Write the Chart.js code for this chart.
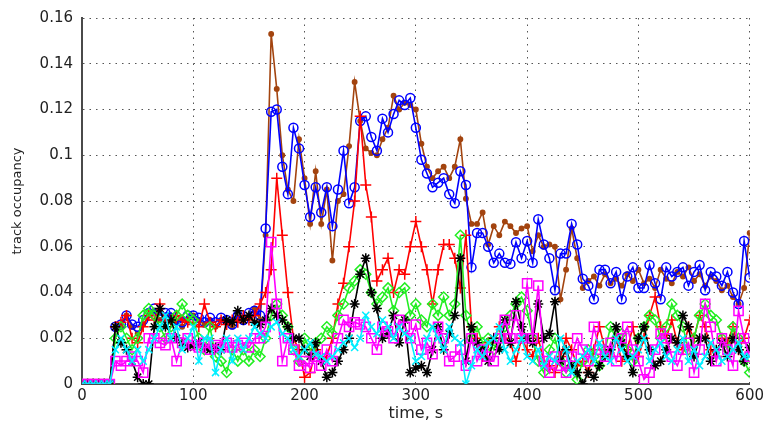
<!DOCTYPE html>
<html>
<head>
<meta charset="utf-8">
<script src="https://cdn.jsdelivr.net/npm/chart.js@4/dist/chart.umd.min.js"></script>
<style>
html,body{margin:0;padding:0;background:#fff;}
#wrap{width:767px;height:430px;}
</style>
</head>
<body>
<div id="wrap"><canvas id="c" width="767" height="430"></canvas></div>
<script>
// time, s
const time = [
  0,5,10,15,20,25,30,35,40,45,
  50,55,60,65,70,75,80,85,90,95,
  100,105,110,115,120,125,130,135,140,145,
  150,155,160,165,170,175,180,185,190,195,
  200,205,210,215,220,225,230,235,240,245,
  250,255,260,265,270,275,280,285,290,295,
  300,305,310,315,320,325,330,335,340,345,
  350,355,360,365,370,375,380,385,390,395,
  400,405,410,415,420,425,430,435,440,445,
  450,455,460,465,470,475,480,485,490,495,
  500,505,510,515,520,525,530,535,540,545,
  550,555,560,565,570,575,580,585,590,595,
  600
];

const brownSeries = [
  0,0,0,0,0,0,0.025,0.025,0.03,0.025,
  0.022,0.026,0.03,0.032,0.028,0.03,0.03,0.027,0.025,0.028,
  0.03,0.028,0.026,0.028,0.025,0.028,0.027,0.025,0.029,0.027,
  0.03,0.033,0.028,0.065,0.153,0.129,0.1,0.085,0.08,0.107,
  0.09,0.07,0.093,0.07,0.085,0.054,0.08,0.083,0.104,0.132,
  0.115,0.103,0.101,0.1,0.107,0.112,0.126,0.12,0.123,0.122,
  0.12,0.105,0.095,0.09,0.093,0.095,0.09,0.095,0.107,0.081,
  0.07,0.07,0.075,0.061,0.069,0.065,0.071,0.069,0.066,0.068,
  0.069,0.058,0.065,0.06,0.061,0.06,0.037,0.05,0.068,0.055,
  0.042,0.045,0.047,0.043,0.048,0.044,0.046,0.043,0.048,0.045,
  0.05,0.044,0.046,0.042,0.05,0.046,0.044,0.049,0.047,0.051,
  0.045,0.048,0.043,0.047,0.045,0.041,0.043,0.038,0.035,0.042,
  0.066
];

const blueSeries = [
  0,0,0,0,0,0,0.025,0.026,0.03,0.026,
  0.025,0.028,0.031,0.033,0.03,0.031,0.031,0.028,0.027,0.03,
  0.03,0.029,0.027,0.029,0.027,0.029,0.028,0.026,0.03,0.028,
  0.031,0.032,0.03,0.068,0.119,0.12,0.095,0.083,0.112,0.103,
  0.087,0.073,0.086,0.075,0.086,0.069,0.085,0.102,0.079,0.086,
  0.115,0.117,0.108,0.102,0.116,0.11,0.118,0.124,0.122,0.125,
  0.112,0.098,0.092,0.086,0.088,0.09,0.083,0.079,0.093,0.087,
  0.051,0.066,0.066,0.06,0.053,0.057,0.053,0.0525,0.062,0.055,
  0.0625,0.053,0.072,0.061,0.055,0.041,0.057,0.057,0.07,0.061,
  0.046,0.043,0.037,0.05,0.05,0.044,0.049,0.037,0.047,0.051,
  0.042,0.042,0.052,0.044,0.037,0.051,0.047,0.049,0.051,0.043,
  0.049,0.052,0.041,0.049,0.047,0.043,0.049,0.04,0.035,0.0625,
  0.0465
];

const redSeries = [
  0,0,0,0,0,0,0.025,0.027,0.03,0.02,
  0.018,0.025,0.03,0.028,0.035,0.028,0.027,0.03,0.028,0.027,
  0.026,0.025,0.035,0.027,0.025,0.028,0.026,0.028,0.027,0.03,
  0.028,0.03,0.035,0.04,0.05,0.09,0.065,0.04,0.02,0.015,
  0.003,0.005,0.015,0.01,0.012,0.02,0.035,0.044,0.06,0.08,
  0.117,0.087,0.073,0.045,0.05,0.055,0.04,0.05,0.048,0.06,
  0.071,0.06,0.05,0.035,0.05,0.061,0.061,0.055,0.042,0.065,
  0.025,0.02,0.012,0.018,0.02,0.025,0.02,0.018,0.01,0.02,
  0.015,0.012,0.02,0.01,0.008,0.005,0.012,0.02,0.015,0.008,
  0.01,0.005,0.015,0.025,0.015,0.012,0.02,0.01,0.015,0.025,
  0.012,0.02,0.03,0.038,0.025,0.02,0.028,0.018,0.015,0.025,
  0.02,0.03,0.025,0.015,0.012,0.02,0.018,0.025,0.015,0.02,
  0.028
];

const greenSeries = [
  0,0,0,0,0,0,0.02,0.025,0.02,0.015,
  0.02,0.03,0.033,0.03,0.025,0.02,0.025,0.03,0.035,0.03,
  0.028,0.02,0.015,0.025,0.012,0.01,0.005,0.015,0.01,0.015,
  0.01,0.015,0.012,0.02,0.03,0.035,0.03,0.025,0.015,0.01,
  0.02,0.015,0.018,0.02,0.025,0.022,0.03,0.035,0.042,0.045,
  0.05,0.048,0.04,0.035,0.038,0.042,0.032,0.04,0.042,0.03,
  0.035,0.028,0.025,0.035,0.03,0.038,0.03,0.035,0.065,0.03,
  0.02,0.025,0.018,0.02,0.015,0.02,0.025,0.03,0.035,0.038,
  0.032,0.02,0.01,0.005,0.015,0.02,0.01,0.005,0.008,0.002,
  0.01,0.015,0.012,0.008,0.015,0.025,0.02,0.022,0.015,0.01,
  0.02,0.025,0.03,0.028,0.02,0.025,0.035,0.03,0.025,0.015,
  0.02,0.03,0.035,0.03,0.028,0.02,0.015,0.025,0.02,0.01,
  0.005
];

const blackSeries = [
  0,0,0,0,0,0,0.025,0.018,0.015,0.01,
  0.003,0,0,0.025,0.033,0.025,0.028,0.02,0.018,0.016,
  0.017,0.018,0.016,0.015,0.016,0.015,0.028,0.027,0.032,0.028,
  0.03,0.027,0.026,0.028,0.033,0.03,0.028,0.025,0.02,0.02,
  0.015,0.012,0.018,0.01,0.003,0.005,0.01,0.015,0.02,0.035,
  0.048,0.055,0.04,0.033,0.02,0.022,0.03,0.018,0.028,0.005,
  0.007,0.008,0.005,0.015,0.025,0.015,0.022,0.03,0.055,0.01,
  0.025,0.018,0.015,0.01,0.02,0.015,0.028,0.018,0.036,0.025,
  0.02,0.018,0.035,0.02,0.022,0.036,0.01,0.015,0.008,0.005,
  0,0.005,0.003,0.008,0.012,0.015,0.025,0.018,0.012,0.005,
  0.02,0.025,0.015,0.008,0.01,0.015,0.02,0.018,0.03,0.025,
  0.012,0.02,0.02,0.01,0.015,0.018,0.012,0.02,0.015,0.01,
  0.016
];

const magentaSeries = [
  0,0,0,0,0,0,0.01,0.008,0.01,0.012,
  0.01,0.005,0.02,0.02,0.018,0.017,0.02,0.01,0.018,0.02,
  0.017,0.016,0.018,0.015,0.017,0.016,0.018,0.016,0.017,0.018,
  0.016,0.02,0.02,0.025,0.062,0.035,0.01,0.02,0.015,0.008,
  0.01,0.007,0.012,0.008,0.015,0.01,0.02,0.028,0.025,0.027,
  0.026,0.025,0.02,0.015,0.025,0.023,0.02,0.028,0.025,0.02,
  0.026,0.015,0.018,0.013,0.025,0.02,0.01,0.012,0.015,0.008,
  0.02,0.01,0.015,0.012,0.01,0.02,0.028,0.02,0.03,0.02,
  0.044,0.02,0.043,0.01,0.005,0.012,0.008,0.005,0.012,0.02,
  0.015,0.01,0.025,0.015,0.012,0.018,0.01,0.02,0.025,0.015,
  0.01,0.002,0.005,0.015,0.022,0.02,0.012,0.008,0.015,0.018,
  0.005,0.015,0.035,0.025,0.01,0.02,0.015,0.008,0.032,0.02,
  0.012
];

const cyanSeries = [
  0,0,0,0,0,0,0.015,0.02,0.015,0.01,
  0.015,0.01,0.015,0.02,0.025,0.03,0.02,0.025,0.015,0.02,
  0.025,0.01,0.02,0.02,0.005,0.015,0.02,0.01,0.02,0.015,
  0.02,0.025,0.022,0.02,0.025,0.027,0.022,0.02,0.015,0.012,
  0.015,0.018,0.013,0.012,0.01,0.012,0.015,0.018,0.02,0.016,
  0.02,0.03,0.025,0.022,0.028,0.025,0.02,0.025,0.022,0.02,
  0.01,0.012,0.02,0.025,0.02,0.015,0.025,0.02,0.018,0,
  0.008,0.015,0.012,0.018,0.02,0.025,0.015,0.01,0.015,0.02,
  0.012,0.01,0.015,0.008,0.012,0.01,0.02,0.015,0.005,0.01,
  0.012,0.015,0.01,0.018,0.012,0.01,0.02,0.015,0.01,0.012,
  0.015,0.02,0.01,0.015,0.018,0.012,0.01,0.015,0.02,0.01,
  0.015,0.008,0.012,0.018,0.015,0.01,0.012,0.015,0.018,0.012,
  0.012
];

const xTicks = [0,100,200,300,400,500,600];
const yTicks = [0,0.02,0.04,0.06,0.08,0.1,0.12,0.14,0.16];
const xTitle = 'time, s';
const yTitle = 'track occupancy';

function pts(arr){ return time.map((t,i)=>({x:t,y:arr[i]})); }

function ds(arr, color, style, radius, order, filled){
  return {
    data: pts(arr),
    borderColor: color,
    backgroundColor: filled ? color : 'rgba(0,0,0,0)',
    pointBorderColor: color,
    pointBackgroundColor: filled ? color : 'rgba(0,0,0,0)',
    pointStyle: style,
    pointRadius: radius,
    pointBorderWidth: 1.5,
    borderWidth: 1.6,
    showLine: true,
    tension: 0,
    order: order
  };
}

const datasets = [
  ds(brownSeries, '#a3440f', 'circle', 2.2, 7, true),
  ds(blueSeries, '#0000ff', 'circle', 4.5, 6, false),
  ds(redSeries, '#ff0000', 'cross', 5.5, 5, false),
  ds(greenSeries, '#22ee22', 'rectRot', 5, 4, false),
  ds(blackSeries, '#000000', 'star', 5, 3, false),
  ds(magentaSeries, '#ff00ff', 'rect', 6.5, 2, false),
  ds(cyanSeries, '#00eeff', 'crossRot', 5, 1, false)
];

const tickFont = '"DejaVu Sans", "Liberation Sans", Arial, sans-serif';

new Chart(document.getElementById('c'), {
  type: 'scatter',
  data: { datasets },
  options: {
    responsive: false,
    animation: false,
    events: [],
    layout: { padding: { top: 15, right: 15, left: 0, bottom: 0 } },
    plugins: { legend: { display: false }, tooltip: { enabled: false } },
    scales: {
      x: {
        type: 'linear', min: 0, max: 600,
        afterBuildTicks: s => { s.ticks = xTicks.map(v => ({value: v})); },
        afterFit: s => { s.height = 46; },
        ticks: { color: '#222', font: { family: tickFont, size: 15 }, padding: 3, maxRotation: 0,
                 callback: v => String(v) },
        grid: { color: '#555', lineWidth: 1, drawTicks: false },
        border: { display: true, color: '#4a4a4a', width: 2, dash: [1.5, 5] },
        title: { display: true, text: xTitle, color: '#222', font: { family: tickFont, size: 16 }, padding: { top: 0, bottom: 7 } }
      },
      y: {
        type: 'linear', min: 0, max: 0.16,
        afterBuildTicks: s => { s.ticks = yTicks.map(v => ({value: v})); },
        afterFit: s => { s.width = 82; },
        ticks: { color: '#222', font: { family: tickFont, size: 15 }, padding: 9,
                 callback: v => String(Math.round(v*100)/100) },
        grid: { color: '#555', lineWidth: 1, drawTicks: false },
        border: { display: true, color: '#4a4a4a', width: 2, dash: [1.5, 5] },
        title: { display: true, text: yTitle, color: '#222', font: { family: tickFont, size: 13 }, padding: { top: 10, bottom: 4 } }
      }
    }
  }
});
</script>
</body>
</html>
